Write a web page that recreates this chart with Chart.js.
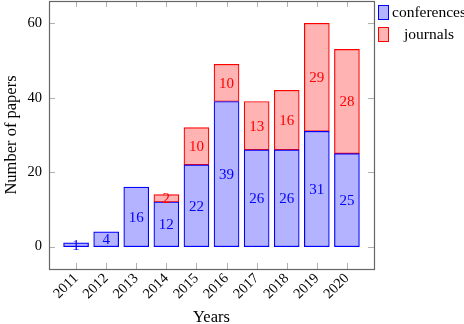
<!DOCTYPE html>
<html>
<head>
<meta charset="utf-8">
<script src="https://cdn.jsdelivr.net/npm/chart.js@4.4.1/dist/chart.umd.min.js"></script>
<style>
  html, body { margin: 0; padding: 0; background: #fff; }
  #wrap { width: 464px; height: 324px; position: relative; }
</style>
</head>
<body>
<div id="wrap"><canvas id="chart" width="464" height="324"></canvas></div>
<script>
// Chart data
const years = [2011, 2012, 2013, 2014, 2015, 2016, 2017, 2018, 2019, 2020];
const conferences = [1, 4, 16, 12, 22, 39, 26, 26, 31, 25];
const journals = [0, 0, 0, 2, 10, 10, 13, 16, 29, 28];
const yTicks = [0, 20, 40, 60];

const serif = '"Liberation Serif", "DejaVu Serif", serif';
const blue = '#0000ff';
const red = '#ff0000';

/**
 * Value labels centred in each bar segment, full frame, inner tick marks, legend
 */
const decorPlugin = {
    id: 'decor',
    afterDatasetsDraw(chart) {
        const ctx = chart.ctx;
        const area = chart.chartArea;
        const xs = chart.scales.x;
        const ys = chart.scales.y;

        // inner tick marks
        ctx.save();
        ctx.strokeStyle = '#b0b0b0';
        ctx.lineWidth = 1;
        years.forEach(v => {
            const px = Math.round(xs.getPixelForValue(v)) + 0.5;
            ctx.beginPath();
            ctx.moveTo(px, area.top); ctx.lineTo(px, area.top + 6);
            ctx.moveTo(px, area.bottom); ctx.lineTo(px, area.bottom - 6);
            ctx.stroke();
        });
        yTicks.forEach(v => {
            const py = Math.round(ys.getPixelForValue(v)) + 0.5;
            ctx.beginPath();
            ctx.moveTo(area.left, py); ctx.lineTo(area.left + 6, py);
            ctx.moveTo(area.right, py); ctx.lineTo(area.right - 6, py);
            ctx.stroke();
        });

        // frame
        ctx.strokeStyle = '#666';
        ctx.lineWidth = 1.2;
        ctx.strokeRect(area.left + 0.5, area.top + 0.5, area.right - area.left, area.bottom - area.top);
        ctx.restore();

        // labels
        ctx.save();
        ctx.font = '15px ' + serif;
        ctx.textAlign = 'center';
        ctx.textBaseline = 'middle';
        chart.data.datasets.forEach((ds, i) => {
            const meta = chart.getDatasetMeta(i);
            meta.data.forEach((bar, j) => {
                const v = ds.data[j].y;
                if (!v) return;
                const c = bar.getCenterPoint();
                ctx.fillStyle = ds.borderColor;
                ctx.fillText(String(v), c.x, c.y + 1);
            });
        });
        ctx.restore();

        // legend
        ctx.save();
        ctx.font = '15.5px ' + serif;
        ctx.textBaseline = 'middle';
        ctx.textAlign = 'center';
        const colW = Math.max(...chart.data.datasets.map(ds => ctx.measureText(ds.label).width));
        chart.data.datasets.forEach((ds, i) => {
            const y = 5 + i * 22;
            ctx.fillStyle = ds.backgroundColor;
            ctx.fillRect(378.5, y + 0.5, 10, 14);
            ctx.strokeStyle = ds.borderColor;
            ctx.lineWidth = 1;
            ctx.strokeRect(378.5, y + 0.5, 10, 14);
            ctx.fillStyle = '#000';
            ctx.fillText(ds.label, 392 + colW / 2, y + 8);
        });
        ctx.restore();
    }
};

new Chart(document.getElementById('chart'), {
    type: 'bar',
    data: {
        datasets: [
            {
                label: 'conferences',
                data: years.map((y, i) => ({ x: y, y: conferences[i] })),
                backgroundColor: 'rgb(179,179,255)',
                borderColor: blue,
                borderWidth: 1.2,
                barThickness: 25,
                borderSkipped: false
            },
            {
                label: 'journals',
                data: years.map((y, i) => ({ x: y, y: journals[i] })),
                backgroundColor: 'rgb(255,179,179)',
                borderColor: red,
                borderWidth: 1.2,
                barThickness: 25,
                borderSkipped: false
            }
        ]
    },
    options: {
        responsive: false,
        animation: false,
        layout: { padding: { top: 1, right: 90, left: 0, bottom: 0 } },
        plugins: {
            legend: { display: false },
            tooltip: { enabled: false }
        },
        scales: {
            x: {
                type: 'linear',
                stacked: true,
                offset: false,
                min: 2010.1,
                max: 2020.9,
                afterBuildTicks: (scale) => { scale.ticks = years.map(v => ({ value: v })); },
                afterFit: (scale) => {
                    scale.height = 55;
                    scale.paddingLeft = 0;
                    scale.paddingRight = 0;
                },
                grid: { display: false, drawTicks: false, offset: false },
                border: { display: false },
                ticks: {
                    color: '#000',
                    font: { family: serif, size: 14.5 },
                    minRotation: 45,
                    maxRotation: 45,
                    padding: 1,
                    callback: (v) => String(v)
                },
                title: {
                    display: true,
                    text: 'Years',
                    color: '#000',
                    font: { family: serif, size: 16.5 },
                    padding: { top: 0, bottom: -4 }
                }
            },
            y: {
                stacked: true,
                min: -6,
                max: 66,
                afterBuildTicks: (scale) => { scale.ticks = yTicks.map(v => ({ value: v })); },
                afterFit: (scale) => {
                    scale.width = 49;
                    scale.paddingTop = 0;
                    scale.paddingBottom = 0;
                },
                grid: { display: false, drawTicks: false },
                border: { display: false },
                ticks: {
                    color: '#000',
                    font: { family: serif, size: 14.5 },
                    padding: 7
                },
                title: {
                    display: true,
                    text: 'Number of papers',
                    color: '#000',
                    font: { family: serif, size: 16.5 },
                    padding: { top: 2, bottom: 0 }
                }
            }
        }
    },
    plugins: [decorPlugin]
});
</script>
</body>
</html>
